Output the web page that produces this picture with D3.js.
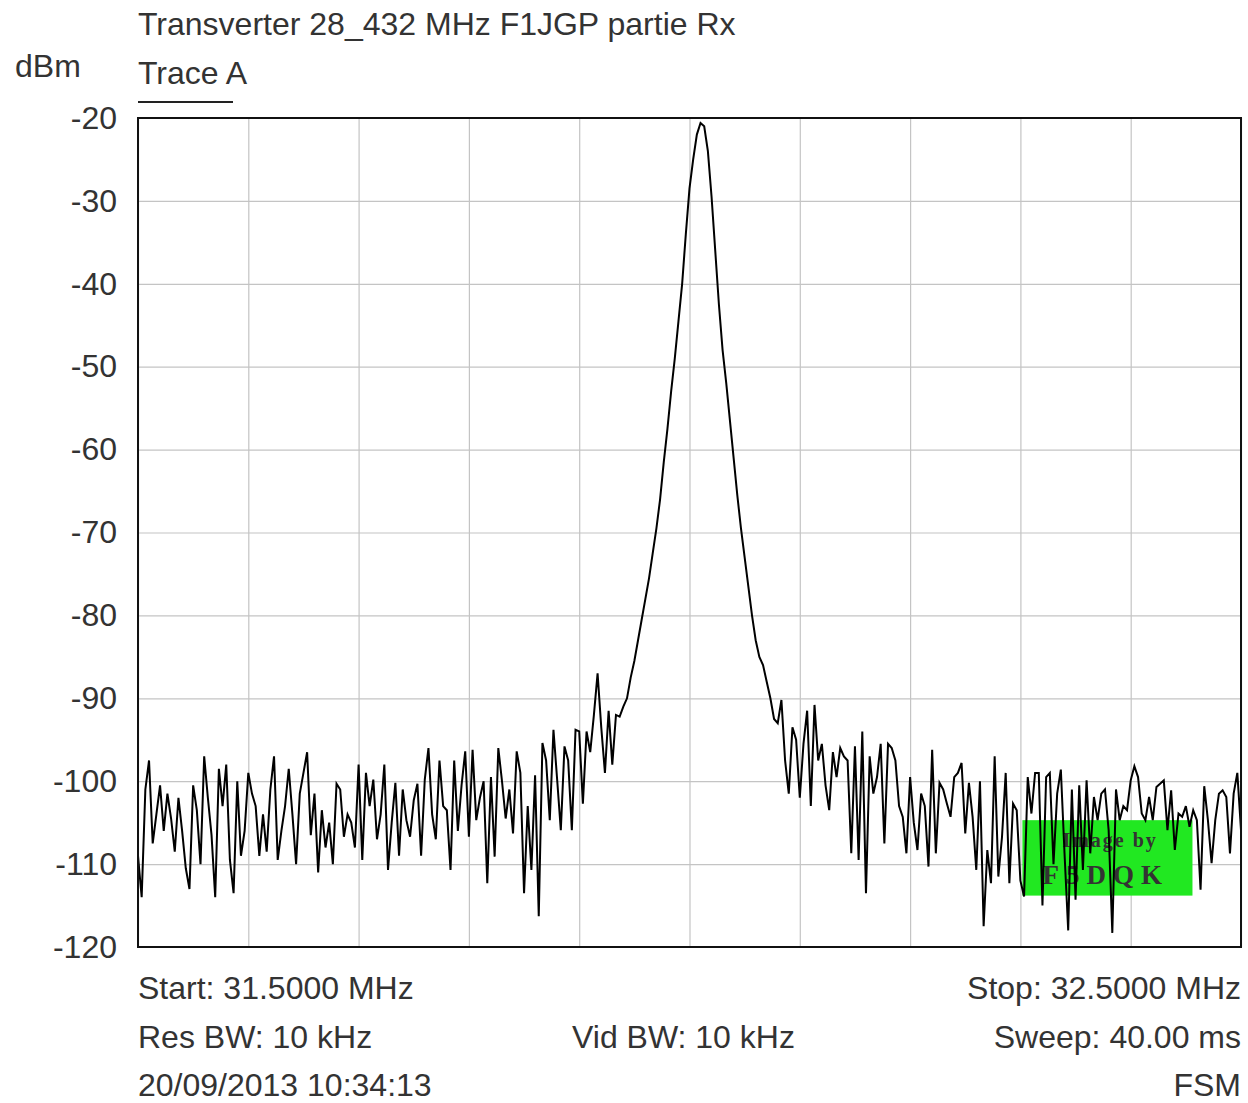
<!DOCTYPE html>
<html>
<head>
<meta charset="utf-8">
<script src="https://cdn.jsdelivr.net/npm/d3@7"></script>
<style>
body{margin:0;background:#fff;}
text{font-family:"Liberation Sans",Arial,sans-serif;fill:#333;}
</style>
</head>
<body>
<div id="spectrum"></div>
<script>
/*Spectrum trace FSM - transverter Rx*/
var title="Transverter 28_432 MHz F1JGP partie Rx";
var traceName="Trace A";
var unit="dBm";
var freqRange=[31.5,32.5];
var levelRange=[-120,-20];
var levelTicks=[-20,-30,-40,-50,-60,-70,-80,-90,-100,-110,-120];
var freqGrid=[31.5,31.6,31.7,31.8,31.9,32.0,32.1,32.2,32.3,32.4,32.5];
var infoLeft=["Start: 31.5000 MHz","Res BW: 10 kHz","20/09/2013 10:34:13"];
var infoMid=["","Vid BW: 10 kHz",""];
var infoRight=["Stop: 32.5000 MHz","Sweep: 40.00 ms","FSM"];
var stamp=["Image by","F5DQK"];
// trace A, dBm, 301 sweep points from start to stop
var traceA=[
-109,-114,-101,-97.5,-107.5,-104,-100.5,-106,-101.5,-104.5,
-108.5,-102,-106,-110.5,-113,-100.5,-103.5,-110,-97,-102,
-106.5,-114,-98.5,-103,-98,-109.5,-113.5,-100,-109,-106,
-99,-101.5,-103,-109,-104,-108.5,-101,-97,-109.5,-106,
-103,-98.5,-104,-110,-101.5,-99,-96.5,-106.5,-101.5,-111,
-103.5,-108,-105,-110,-100.3,-101,-106.7,-104,-105,-108,
-98,-109.5,-99,-103,-99.8,-107,-104,-98,-110.7,-105,
-100.2,-109,-101,-104.7,-106.7,-102.3,-100.3,-109,-99.8,-96,
-104,-107,-97.5,-103,-103.5,-110.7,-97.5,-106,-100.5,-96.4,
-106.7,-96.2,-104.7,-102,-100,-112.3,-99.5,-109.1,-96,-100,
-104.5,-101,-106.3,-96.4,-99,-113.5,-103,-110.7,-99.3,-116.3,
-95.4,-97.5,-104.7,-93.8,-99.8,-105.9,-95.8,-97.5,-105.9,-93.8,
-94,-102.7,-94,-96.5,-92,-87,-93.5,-99,-91.5,-98,
-92,-92.2,-91,-90,-87.5,-85.5,-83,-80.5,-78,-75.5,
-72.5,-69.5,-66,-61.5,-57.5,-53,-49,-44.5,-40,-34,
-28.5,-25,-22,-20.6,-21,-24,-29.5,-36,-42.5,-48,
-52,-56.5,-61,-65.5,-69.5,-73,-76.5,-80,-83,-85,
-86,-88,-90,-92.5,-93,-90.2,-97.5,-101.5,-93.5,-95,
-102,-95.5,-91.5,-103,-90.8,-97.5,-95.5,-100.5,-103.5,-96.5,
-99.5,-96,-97,-97.5,-108.7,-95.8,-109.5,-94,-113.5,-97,
-101.5,-99.5,-95.5,-107.5,-95.5,-96,-97.5,-103,-104.3,-108.7,
-99.5,-105,-108.3,-101.5,-103,-110.3,-96.2,-108.7,-100.2,-101,
-102.7,-104.3,-99.5,-99,-97.8,-106.3,-100.2,-104.3,-110.7,-100,
-117.5,-108.3,-112.3,-97,-111.5,-106.7,-99,-112.3,-102.7,-103.5,
-112,-113.9,-99.5,-103.9,-99,-99,-115,-99.5,-99,-110,
-101.5,-98.6,-108.7,-118,-101,-114.3,-100.5,-110.7,-99.9,-108.7,
-101.9,-104.7,-101.5,-101,-105.9,-118.3,-101,-104.7,-103,-103.5,
-99.9,-98.2,-99.5,-103.9,-104.7,-101.9,-104.7,-100.7,-100.3,-99.9,
-105.9,-101.1,-108.3,-103.9,-104.3,-103,-105.5,-103.5,-104.7,-113.1,
-100.6,-104.7,-109.9,-104.7,-101.5,-101.1,-101.9,-108.7,-101.5,-99,
-105.9];

var W=1248,H=1103;
var margin={top:118,right:7,bottom:156,left:138},
w=W-margin.left-margin.right,
h=H-margin.top-margin.bottom;
var fs="32px";

var svg=d3.select("#spectrum")
.append("svg")
.attr("width",W)
.attr("height",H);

var g=svg.append("g")
.attr("transform",`translate(${margin.left},${margin.top})`);

var xScale=d3.scaleLinear().domain(freqRange).range([0,w]);
var yScale=d3.scaleLinear().domain(levelRange).range([h,0]);
var step=(freqRange[1]-freqRange[0])/(traceA.length-1);

//grid
g.append("g").attr("class","grid")
.call(d3.axisLeft(yScale).tickValues(levelTicks).tickSize(-w).tickFormat(""))
.call(function(a){a.select(".domain").remove();
a.selectAll("line").attr("stroke","#c4c4c4").attr("stroke-width",1.2);});
g.append("g").attr("class","grid")
.attr("transform","translate(0,"+h+")")
.call(d3.axisBottom(xScale).tickValues(freqGrid).tickSize(-h).tickFormat(""))
.call(function(a){a.select(".domain").remove();
a.selectAll("line").attr("stroke","#c4c4c4").attr("stroke-width",1.2);});

//level labels (plain hyphen like the analyser)
g.append("g")
.call(d3.axisLeft(yScale).tickValues(levelTicks).tickSize(0).tickPadding(21)
.tickFormat(function(d){return String(d);}))
.call(function(a){a.select(".domain").remove();
a.selectAll("text").style("font-size",fs).attr("fill","#333")
.style("font-family",'"Liberation Sans",Arial,sans-serif');});

//green stamp box
var bx=xScale(32.3)+2,by=yScale(-104.7);
g.append("rect")
.attr("x",bx).attr("y",by)
.attr("width",xScale(32.456)-bx).attr("height",yScale(-113.8)-by)
.attr("fill","#21e821");
g.append("text").attr("x",bx+40).attr("y",by+27)
.style("font-family",'"Liberation Serif",serif').style("font-size","20px")
.style("font-weight","bold").style("letter-spacing","2px")
.attr("fill","#1d4a1d").text(stamp[0]);
g.append("text").attr("x",bx+20).attr("y",by+64)
.style("font-family",'"Liberation Serif",serif').style("font-size","27px")
.style("font-weight","bold").style("letter-spacing","7px")
.attr("fill","#102a10").text(stamp[1]);

//trace
var line=d3.line()
.x(function(d,i){return xScale(freqRange[0]+i*step);})
.y(function(d){return yScale(d);});
g.append("path")
.datum(traceA)
.attr("fill","none")
.attr("stroke","#000")
.attr("stroke-width",2)
.attr("stroke-linejoin","miter")
.attr("d",line);

//frame
g.append("rect")
.attr("width",w).attr("height",h)
.attr("fill","none").attr("stroke","#111").attr("stroke-width",2);

//headers
svg.append("text").attr("x",margin.left).attr("y",35)
.style("font-size",fs).text(title);
svg.append("text").attr("x",15).attr("y",77)
.style("font-size",fs).text(unit);
svg.append("text").attr("x",margin.left).attr("y",84)
.style("font-size",fs).text(traceName);
svg.append("line")
.attr("x1",margin.left).attr("x2",233)
.attr("y1",102).attr("y2",102)
.attr("stroke","#222").attr("stroke-width",2);

//sweep info
var rows=[999,1048,1096];
rows.forEach(function(yy,i){
svg.append("text").attr("x",margin.left).attr("y",yy)
.style("font-size",fs).text(infoLeft[i]);
svg.append("text").attr("x",572).attr("y",yy)
.style("font-size",fs).text(infoMid[i]);
svg.append("text").attr("x",margin.left+w).attr("y",yy)
.attr("text-anchor","end")
.style("font-size",fs).text(infoRight[i]);
});
</script>
</body>
</html>
